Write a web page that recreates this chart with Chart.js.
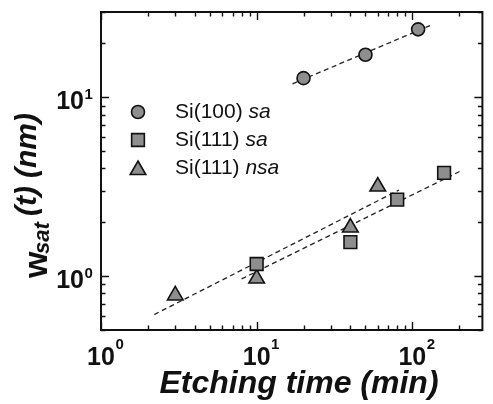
<!DOCTYPE html>
<html>
<head>
<meta charset="utf-8">
<script src="https://cdn.jsdelivr.net/npm/chart.js@4.4.1/dist/chart.umd.min.js"></script>
<style>
  html, body { margin: 0; padding: 0; background: #fff; }
  #wrap { width: 493px; height: 404px; }
</style>
</head>
<body>
<div id="wrap"><canvas id="roughnessChart" width="493" height="404"></canvas></div>
<script>
// Etching time (min) vs saturated roughness w_sat (nm)
const si100SaTime = [20, 50, 109];
const si100SaWidth = [12.8, 17.3, 24.0];

const si111SaTime = [10, 40, 80, 160];
const si111SaWidth = [1.17, 1.55, 2.68, 3.78];

const si111NsaTime = [3, 10, 40, 60];
const si111NsaWidth = [0.78, 0.97, 1.87, 3.17];

// dashed power-law fits, start and end points
const fit100Time = [17, 130];
const fit100Width = [11.9, 25.2];
const fit111SaTime = [8, 209];
const fit111SaWidth = [0.965, 3.91];
const fit111NsaTime = [2.2, 82];
const fit111NsaWidth = [0.61, 3.03];

// legend text
const legendNames = ['Si(100) ', 'Si(111) ', 'Si(111) '];
const legendTags = ['sa', 'sa', 'nsa'];

// axes
const xMin = 1, xMax = 282;
const yMin = 0.5, yMax = 30;
const xMajorTicks = [1, 10, 100];
const xMajorExp = ['0', '1', '2'];
const yMajorTicks = [1, 10];
const yMajorExp = ['0', '1'];

const FONT = '"Liberation Sans", Arial, Helvetica, sans-serif';
const MARK_FILL = '#8e8e8e';
const INK = '#111';

function toPoints(xs, ys) {
    return xs.map((v, i) => ({ x: v, y: ys[i] }));
}

// minor + major tick values for a log axis
function logTicks(min, max) {
    const out = [];
    for (let d = Math.floor(Math.log10(min)); d <= Math.ceil(Math.log10(max)); d++) {
        for (let k = 1; k <= 9; k++) {
            const v = k * Math.pow(10, d);
            if (v >= min * 0.999 && v <= max * 1.001) out.push({ v: v, major: k === 1 });
        }
    }
    return out;
}

const markerSets = [
    { style: 'circle', radius: 6.5 },
    { style: 'rect', radius: 9 },
    { style: 'triangle', radius: 9 }
];

function markerDataset(xs, ys, m) {
    return {
        type: 'scatter',
        data: toPoints(xs, ys),
        pointStyle: m.style,
        pointRadius: m.radius,
        pointBackgroundColor: MARK_FILL,
        pointBorderColor: INK,
        pointBorderWidth: 1.6,
        showLine: false,
        order: 0
    };
}

function fitDataset(xs, ys) {
    return {
        type: 'line',
        data: toPoints(xs, ys),
        borderColor: '#222',
        borderWidth: 1.3,
        borderDash: [5, 3.5],
        pointRadius: 0,
        fill: false,
        order: 1
    };
}

// frame, inward ticks and tick labels with superscripts
const axesPlugin = {
    id: 'axesPlugin',
    afterDatasetsDraw(chart) {
        const { ctx, chartArea: a, scales: { x, y } } = chart;
        ctx.save();
        ctx.strokeStyle = INK;
        ctx.lineWidth = 1.4;
        ctx.beginPath();
        logTicks(xMin, xMax).forEach(t => {
            const px = Math.round(x.getPixelForValue(t.v)) + 0.5;
            const len = t.major ? 8 : 4.5;
            ctx.moveTo(px, a.bottom); ctx.lineTo(px, a.bottom - len);
            ctx.moveTo(px, a.top); ctx.lineTo(px, a.top + len);
        });
        logTicks(yMin, yMax).forEach(t => {
            const py = Math.round(y.getPixelForValue(t.v)) + 0.5;
            const len = t.major ? 8 : 4.5;
            ctx.moveTo(a.left, py); ctx.lineTo(a.left + len, py);
            ctx.moveTo(a.right, py); ctx.lineTo(a.right - len, py);
        });
        ctx.stroke();

        ctx.lineWidth = 2;
        ctx.strokeRect(a.left, a.top, a.right - a.left, a.bottom - a.top);

        ctx.fillStyle = INK;
        ctx.textBaseline = 'alphabetic';
        xMajorTicks.forEach((v, i) => {
            const px = x.getPixelForValue(v);
            ctx.font = 'bold 25px ' + FONT;
            const w = ctx.measureText('10').width;
            ctx.textAlign = 'left';
            ctx.fillText('10', px - w / 2, 365);
            ctx.font = 'bold 15px ' + FONT;
            ctx.fillText(xMajorExp[i], px + w / 2 + 0.5, 349);
        });
        yMajorTicks.forEach((v, i) => {
            const py = y.getPixelForValue(v);
            ctx.font = 'bold 25px ' + FONT;
            ctx.textAlign = 'right';
            ctx.fillText('10', 84, py + 11.5);
            ctx.font = 'bold 15px ' + FONT;
            ctx.textAlign = 'left';
            ctx.fillText(yMajorExp[i], 84.5, py + 1.5);
        });

        // x title
        ctx.font = 'italic bold 32px ' + FONT;
        ctx.textAlign = 'center';
        ctx.fillText('Etching time (min)', 299, 393);

        // y title, rotated, pieces going upward
        const piece = (txt, font, bx, startY) => {
            ctx.save();
            ctx.translate(bx, startY);
            ctx.rotate(-Math.PI / 2);
            ctx.font = font;
            ctx.textAlign = 'left';
            ctx.fillText(txt, 0, 0);
            ctx.restore();
        };
        piece('w', 'bold 34px ' + FONT, 47, 278);
        piece('sat', 'italic bold 22px ' + FONT, 48.5, 254);
        piece('(t)', 'italic bold 30px ' + FONT, 36, 216);
        piece('(nm)', 'italic bold 30px ' + FONT, 36, 178);

        // legend
        const rows = [112, 140, 168];
        rows.forEach((ry, i) => {
            const m = markerSets[i];
            ctx.fillStyle = MARK_FILL;
            ctx.strokeStyle = INK;
            ctx.lineWidth = 1.6;
            Chart.helpers.drawPoint(ctx, {
                pointStyle: m.style, radius: m.radius, rotation: 0, borderWidth: 1.6
            }, 138, ry + (m.style === 'triangle' ? 2 : 0));
            ctx.fillStyle = INK;
            ctx.textBaseline = 'middle';
            ctx.textAlign = 'left';
            ctx.font = '21px ' + FONT;
            ctx.fillText(legendNames[i], 175, ry);
            const w = ctx.measureText(legendNames[i]).width;
            ctx.font = 'italic 21px ' + FONT;
            ctx.fillText(legendTags[i], 175 + w, ry);
        });
        ctx.restore();
    }
};

window.onload = function() {
    const ctx = document.getElementById('roughnessChart').getContext('2d');
    new Chart(ctx, {
        data: {
            datasets: [
                markerDataset(si100SaTime, si100SaWidth, markerSets[0]),
                markerDataset(si111SaTime, si111SaWidth, markerSets[1]),
                markerDataset(si111NsaTime, si111NsaWidth, markerSets[2]),
                fitDataset(fit100Time, fit100Width),
                fitDataset(fit111SaTime, fit111SaWidth),
                fitDataset(fit111NsaTime, fit111NsaWidth)
            ]
        },
        options: {
            responsive: false,
            animation: false,
            layout: { padding: { left: 101, right: 2, top: 12, bottom: 74 } },
            scales: {
                x: { type: 'logarithmic', min: xMin, max: xMax, display: false },
                y: { type: 'logarithmic', min: yMin, max: yMax, display: false }
            },
            plugins: {
                legend: { display: false },
                tooltip: { enabled: false }
            }
        },
        plugins: [axesPlugin]
    });
};
</script>
</body>
</html>
